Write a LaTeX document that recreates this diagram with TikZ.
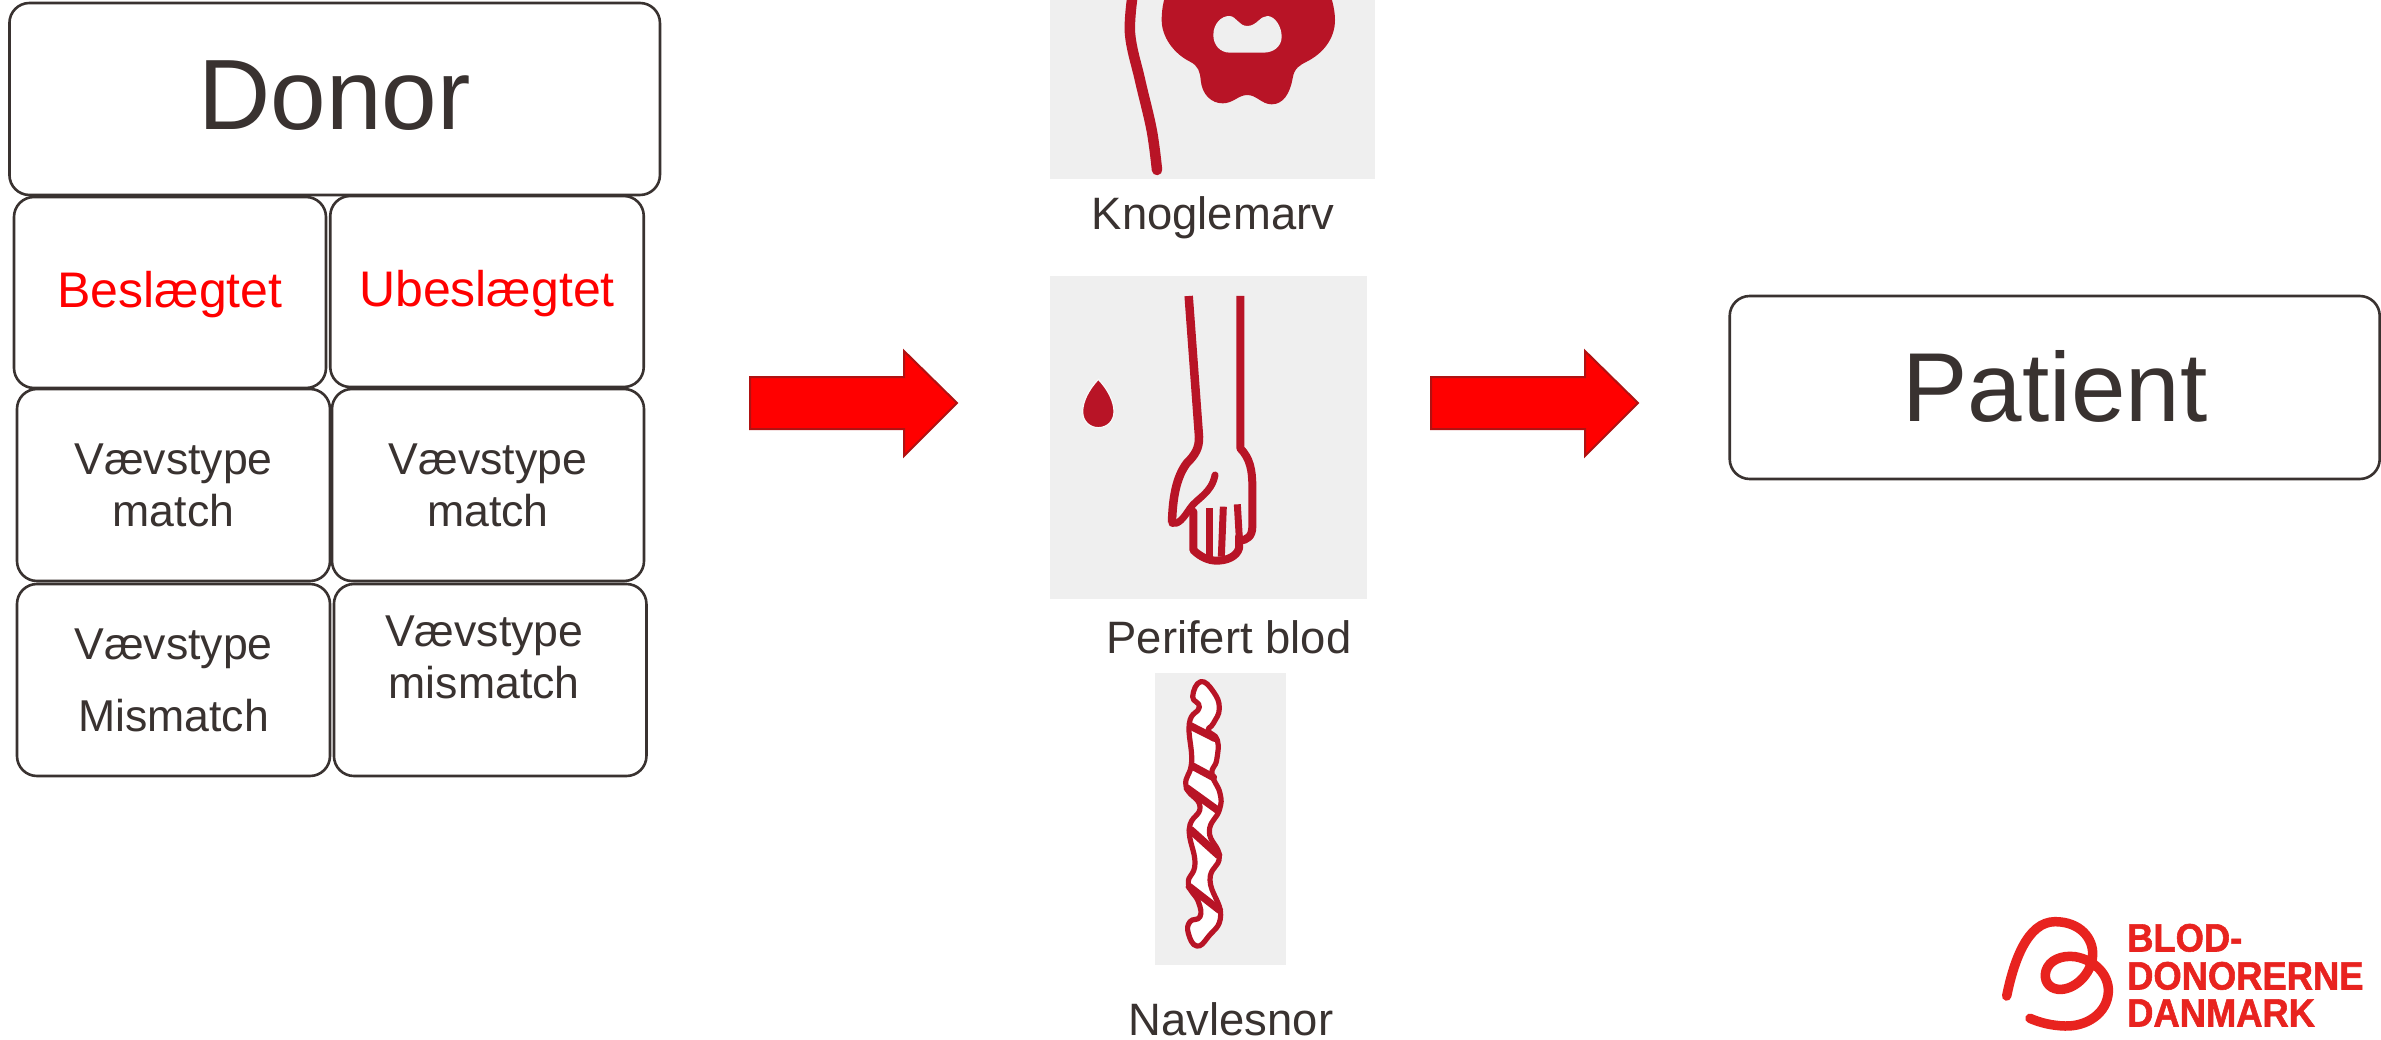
\documentclass[tikz,border=0pt]{standalone}
\usepackage{fontspec}
\setmainfont{Liberation Sans}
\newfontfamily\logofont[FakeStretch=0.92,FakeBold=1.4]{Liberation Sans Bold}
\definecolor{ink}{HTML}{393230}
\definecolor{panelgrey}{HTML}{EFEFEF}
\definecolor{bloodred}{HTML}{B81426}
\definecolor{logored}{HTML}{E8231F}
\definecolor{arrowedge}{HTML}{B01212}
\tikzset{
  cellbox/.style={draw=ink,line width=2.6pt,rounded corners=20pt,fill=white,inner sep=0pt,align=center,text=ink},
  bigtext/.style={font=\fontsize{100}{110}\selectfont},
  redtext/.style={font=\fontsize{50}{56}\selectfont,text=red,text height=40pt,text depth=9pt},
  midtext/.style={font=\fontsize{44.6}{52}\selectfont},
  looseline/.style={font=\fontsize{44.6}{72}\selectfont},
  caption/.style={font=\fontsize{45.4}{52}\selectfont,text=ink,anchor=base,inner sep=0pt},
  panel/.style={fill=panelgrey,draw=none,inner sep=0pt},
  blockarrow/.style={fill=red,draw=arrowedge,line width=2pt,line join=miter},
  bloodstroke/.style={draw=bloodred,line cap=round,line join=round},
  logotext/.style={font=\logofont\fontsize{39.5}{39.5}\selectfont,text=logored,anchor=base west,inner sep=0pt},
}
\begin{document}
\begin{tikzpicture}[x=1pt,y=-1pt]
\useasboundingbox (0,0) rectangle (2381,1040);
\fill[white] (0,0) rectangle (2381,1040);

% Donor grid
\node[cellbox,bigtext,minimum width=650.5pt,minimum height=192pt] (donor) at (334.7,99) {\raisebox{8pt}{Donor}};
\node[cellbox,redtext,minimum width=312pt,minimum height=191pt] (besl) at (170,292.5) {Beslægtet};
\node[cellbox,redtext,minimum width=313.5pt,minimum height=191pt] (ubesl) at (487,291.5) {Ubeslægtet};
\node[cellbox,midtext,minimum width=313pt,minimum height=192pt] (match1) at (173.5,485) {Vævstype\\match};
\node[cellbox,midtext,minimum width=312pt,minimum height=192pt] (match2) at (488,485) {Vævstype\\match};
\node[cellbox,looseline,minimum width=313pt,minimum height=192pt] (mis1) at (173.5,680) {Vævstype\\Mismatch};
\node[cellbox,midtext,minimum width=312.5pt,minimum height=192pt] (mis2) at (490.2,680) {\mbox{Vævstype\hspace{12pt}}\\\mbox{mismatch\hspace{12pt}}\\[-7pt]\mbox{}};

% Arrows
\draw[blockarrow] (750,377) -- (904,377) -- (904,351) -- (957,403) -- (904,456) -- (904,429) -- (750,429) -- cycle;
\draw[blockarrow] (1431,377) -- (1585,377) -- (1585,351) -- (1638,403) -- (1585,456) -- (1585,429) -- (1431,429) -- cycle;

% Patient
\node[cellbox,bigtext,font=\fontsize{98}{107}\selectfont,minimum width=650pt,minimum height=183pt] (patient) at (2054.7,387.5) {\raisebox{4pt}{Patient}};

% Bone marrow panel
\node[panel,minimum width=325pt,minimum height=179pt] (panelA) at (1212.5,89.5) {};
\begin{scope}
\clip (1050,0) rectangle (1375,179);
\begin{scope}[shift={(1030,0)},scale=1/3]
\fill[bloodred] (430,-60) .. controls (400,-20) and (395,30) .. (395,60)
  .. controls (395,110) and (430,160) .. (480,185)
  .. controls (505,198) and (510,215) .. (512,240)
  .. controls (516,285) and (545,310) .. (578,310)
  .. controls (610,310) and (625,285) .. (652,285)
  .. controls (680,285) and (695,313) .. (725,313)
  .. controls (760,313) and (780,280) .. (788,235)
  .. controls (792,205) and (810,195) .. (830,185)
  .. controls (880,160) and (915,115) .. (915,60)
  .. controls (915,30) and (905,-20) .. (880,-60) -- cycle;
\fill[panelgrey] (550,105) .. controls (550,70) and (575,48) .. (597,48)
  .. controls (620,48) and (625,78) .. (652,78)
  .. controls (680,78) and (690,48) .. (712,48)
  .. controls (735,48) and (755,80) .. (755,110)
  .. controls (755,140) and (730,158) .. (700,158) -- (600,158)
  .. controls (570,158) and (550,135) .. (550,105) -- cycle;
\draw[bloodstroke,line width=10.5pt] plot[smooth,tension=0.6] coordinates {
  (310,-30) (300,100) (330,240) (365,390) (381,510)};
\end{scope}
\end{scope}
\node[caption] (capA) at (1213,230) {Knoglemarv};

% Peripheral blood panel
\node[panel,minimum width=317pt,minimum height=323pt] (panelB) at (1208.5,437.5) {};
\begin{scope}[shift={(1030,260)},scale=1/3]
\fill[bloodred,draw=white!60!panelgrey,line width=1.2pt] (205,358) .. controls (235,390) and (252,425) .. (252,455)
  .. controls (252,485) and (230,503) .. (205,503) .. controls (180,503) and (158,485) .. (158,455)
  .. controls (158,425) and (175,390) .. (205,358) -- cycle;
\draw[bloodstroke,line width=8.5pt,line cap=butt] (476,108) -- (507,530)
  .. controls (508,565) and (495,585) .. (470,610)
  .. controls (440,650) and (428,710) .. (426,788);
\draw[bloodstroke,line width=8pt,line cap=butt] (631,108) -- (631,565)
  .. controls (660,595) and (667,630) .. (667,680) -- (667,800)
  .. controls (667,830) and (650,840) .. (630,842);
\draw[bloodstroke,line width=7pt] (426,790) .. controls (445,795) and (460,775) .. (480,745)
  .. controls (500,715) and (545,700) .. (555,645);
\draw[bloodstroke,line width=8pt] (490,755) -- (490,870) .. controls (510,890) and (535,902) .. (560,902)
  .. controls (590,902) and (620,890) .. (627,865) -- (627,830);
\draw[bloodstroke,line width=7pt,line cap=butt] (537,745) -- (537,890);
\draw[bloodstroke,line width=7pt,line cap=butt] (580,740) -- (574,890);
\draw[bloodstroke,line width=7pt,line cap=butt] (622,733) -- (628,835);
\end{scope}
\node[caption] (capB) at (1229,653) {Perifert blod};

% Umbilical cord panel
\node[panel,minimum width=131pt,minimum height=292pt] (panelC) at (1220.5,819) {};
\begin{scope}[shift={(1130,660)},scale=1/3]
\filldraw[fill=white,draw=bloodred,line width=5.2pt,line join=round] plot[smooth cycle,tension=0.8] coordinates {
  (212,65) (250,95) (268,145) (250,190) (235,212) (262,240) (260,300) (246,342) (270,400) (268,450)
  (238,515) (268,590) (240,660) (272,765) (235,830) (200,858) (175,820) (180,785) (210,770) (205,725)
  (175,670) (195,610) (178,505) (210,440) (168,378) (185,305) (178,190) (208,142) (188,110)};
\draw[bloodstroke,line width=7.5pt] (182,198) -- (255,235);
\draw[bloodstroke,line width=7.5pt] (187,318) -- (250,352);
\draw[bloodstroke,line width=7.5pt] (172,385) -- (262,450);
\draw[bloodstroke,line width=8pt] (182,510) -- (265,585);
\draw[bloodstroke,line width=7.5pt] (178,680) -- (268,750);
\end{scope}
\node[caption] (capC) at (1231,1035) {Navlesnor};

% Logo
\begin{scope}[shift={(1980,900)},scale=1/3]
\draw[draw=logored,line width=9.5pt,line cap=round,line join=round] (80,288)
  .. controls (100,190) and (140,65) .. (225,65)
  .. controls (300,65) and (340,115) .. (338,165)
  .. controls (335,225) and (280,272) .. (235,268)
  .. controls (205,265) and (190,240) .. (198,212)
  .. controls (208,180) and (245,165) .. (285,170)
  .. controls (345,180) and (387,225) .. (385,275)
  .. controls (382,340) and (320,380) .. (255,378)
  .. controls (215,377) and (180,368) .. (150,355);
\end{scope}
\node[logotext] (logoA) at (2127,951.5) {BLOD-};
\node[logotext] (logoB) at (2127,989.5) {DONORERNE};
\node[logotext] (logoC) at (2127,1026.5) {DANMARK};
\end{tikzpicture}
\end{document}
